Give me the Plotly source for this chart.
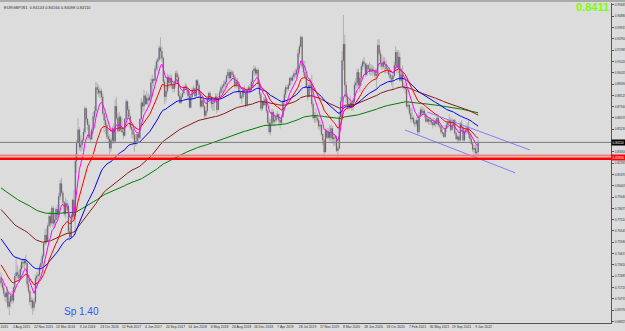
import plotly.graph_objects as go

# ---------------- weekly EURGBP data (price * 10000), bar 0 = week of 7 Jun 2015 ----------------
OPEN_2015 = [7250,7210,7170,7120,7090,7130,7010,7050,7100,7060,7170,7270,7300,7280,7250,7330,7390,7380,7400,7380,7200,7140,7050,7060,7000,7050,7250,7270,7280,7350]
HIGH_2015 = [7300,7230,7200,7140,7180,7140,7080,7130,7140,7180,7290,7420,7360,7320,7360,7420,7420,7420,7450,7410,7240,7160,7090,7080,7080,7280,7300,7310,7370,7420]
LOW_2015 = [7180,7150,7100,7050,7040,6990,6936,7000,7030,7040,7150,7230,7250,7220,7230,7300,7340,7330,7360,7170,7120,7020,6990,6940,6970,7030,7180,7200,7260,7320]
CLOSE_2015 = [7210,7170,7120,7090,7130,7010,7050,7100,7060,7170,7270,7300,7280,7250,7330,7390,7380,7400,7380,7200,7140,7050,7060,7000,7050,7250,7270,7280,7350,7380]

OPEN_2016 = [7380,7440,7550,7620,7570,7700,7780,7720,7850,7720,7750,7840,7790,7950,8060,7980,7900,7800,7890,7870,7650,7600,7770,7920,7780,8250,8410,8520,8370,8390,8430,8500,8700,8610,8560,8450,8440,8520,8630,8680,8880,8860,8830,8850,8800,8660,8600,8560,8460,8440,8360,8430]
HIGH_2016 = [7460,7560,7670,7680,7720,7820,7820,7870,7870,7800,7860,7880,7980,8090,8110,8000,7910,7940,7920,7890,7690,7800,7930,8000,8300,8430,8620,8540,8470,8450,8530,8720,8710,8620,8580,8500,8540,8670,8720,8930,8920,8900,8880,8870,8830,8680,8640,8580,8520,8480,8450,8550]
LOW_2016 = [7340,7420,7530,7540,7560,7690,7680,7700,7680,7680,7730,7760,7780,7920,7960,7870,7780,7760,7830,7630,7570,7590,7750,7750,7620,8150,8400,8340,8330,8340,8420,8480,8580,8510,8430,8420,8430,8520,8600,8650,8820,8800,8790,8760,8640,8500,8480,8440,8410,8310,8330,8400]
CLOSE_2016 = [7440,7550,7620,7570,7700,7780,7720,7850,7720,7750,7840,7790,7950,8060,7980,7900,7800,7890,7870,7650,7600,7770,7920,7780,8250,8410,8520,8370,8390,8430,8500,8700,8610,8560,8450,8440,8520,8630,8680,8880,8860,8830,8850,8800,8660,8600,8560,8460,8440,8360,8430,8530]

OPEN_2017 = [8530,8420,8720,8620,8510,8630,8520,8500,8470,8610,8760,8690,8630,8540,8520,8480,8400,8420,8480,8450,8610,8750,8720,8810,8740,8790,8770,8800,8920,8950,8940,9040,9100,9120,9220,9190,9130,8930,8800,8850,8970,8920,8960,8900,8870,8920,9000,8970,8810,8750,8800,8830]
HIGH_2017 = [8570,8780,8800,8660,8670,8640,8620,8540,8620,8780,8770,8720,8650,8560,8560,8500,8480,8500,8480,8620,8790,8770,8860,8820,8850,8830,8820,8960,8990,8960,9070,9120,9140,9240,9307,9230,9150,8950,8890,9000,8990,8990,8990,8920,8940,9020,9030,8990,8850,8830,8850,8900]
LOW_2017 = [8400,8410,8600,8490,8500,8500,8490,8440,8460,8600,8620,8610,8520,8450,8440,8330,8380,8400,8410,8440,8600,8670,8680,8730,8730,8710,8760,8770,8800,8890,8920,9020,9020,9100,9120,9100,8880,8740,8760,8830,8870,8880,8870,8840,8840,8880,8920,8800,8740,8740,8790,8820]
CLOSE_2017 = [8420,8720,8620,8510,8630,8520,8500,8470,8610,8760,8690,8630,8540,8520,8480,8400,8420,8480,8450,8610,8750,8720,8810,8740,8790,8770,8800,8920,8950,8940,9040,9100,9120,9220,9190,9130,8930,8800,8850,8970,8920,8960,8900,8870,8920,9000,8970,8810,8750,8800,8830,8880]

OPEN_2018 = [8880,8890,8860,8810,8710,8800,8860,8870,8810,8940,8900,8820,8720,8770,8720,8640,8680,8780,8830,8800,8740,8750,8770,8800,8690,8790,8840,8880,8890,8910,8930,8980,9010,8960,9010,8990,8970,8900,8930,8910,8840,8790,8800,8860,8850,8730,8860,8880,8860,8930,9020,9040]
HIGH_2018 = [8920,8910,8880,8860,8830,8880,8900,8880,8950,8950,8920,8840,8790,8790,8730,8690,8800,8840,8850,8810,8780,8790,8830,8830,8810,8860,8900,8910,8940,8950,8990,9040,9040,9030,9030,9020,8990,8960,8960,8920,8890,8830,8880,8900,8860,8880,8900,8910,8950,9030,9070,9060]
LOW_2018 = [8860,8830,8770,8700,8700,8770,8820,8780,8790,8860,8800,8700,8710,8700,8620,8620,8660,8760,8750,8700,8680,8680,8750,8660,8680,8780,8820,8830,8830,8880,8900,8960,8940,8950,8950,8940,8880,8870,8880,8820,8780,8740,8780,8820,8710,8720,8830,8830,8840,8910,8980,8980]
CLOSE_2018 = [8890,8860,8810,8710,8800,8860,8870,8810,8940,8900,8820,8720,8770,8720,8640,8680,8780,8830,8800,8740,8750,8770,8800,8690,8790,8840,8880,8890,8910,8930,8980,9010,8960,9010,8990,8970,8900,8930,8910,8840,8790,8800,8860,8850,8730,8860,8880,8860,8930,9020,9040,9000]

OPEN_2019 = [9000,9030,8910,8820,8700,8760,8730,8780,8680,8580,8500,8570,8670,8590,8600,8630,8650,8600,8580,8630,8760,8820,8880,8870,8900,8960,8940,8970,9000,8990,9030,9170,9230,9310,9060,9010,8970,8880,8800,8900,8890,8740,8620,8640,8620,8600,8550,8560,8480,8430,8330,8510,8450]
HIGH_2019 = [9040,9050,8940,8840,8770,8800,8800,8790,8690,8620,8610,8700,8690,8650,8660,8680,8660,8620,8650,8780,8860,8900,8900,8920,8970,8980,8990,9020,9040,9050,9210,9250,9325,9320,9110,9110,8990,8920,8940,8960,8990,8760,8670,8700,8660,8620,8600,8570,8490,8440,8530,8530,8530]
LOW_2019 = [8980,8870,8790,8680,8680,8710,8720,8660,8560,8480,8470,8560,8550,8550,8580,8610,8570,8530,8560,8620,8740,8790,8840,8850,8890,8910,8930,8940,8960,8960,9010,9140,9220,9040,8980,8950,8870,8770,8790,8850,8710,8600,8580,8580,8580,8520,8510,8470,8390,8277,8320,8440,8440]
CLOSE_2019 = [9030,8910,8820,8700,8760,8730,8780,8680,8580,8500,8570,8670,8590,8600,8630,8650,8600,8580,8630,8760,8820,8880,8870,8900,8960,8940,8970,9000,8990,9030,9170,9230,9310,9060,9010,8970,8880,8800,8900,8890,8740,8620,8640,8620,8600,8550,8560,8480,8430,8330,8510,8450,8500]

OPEN_2020 = [8500,8450,8530,8440,8450,8460,8340,8360,8630,8760,9110,9250,8900,8800,8740,8720,8750,8720,8760,8900,8920,9010,8900,8960,9060,9100,9080,8990,9070,9040,9020,9040,9020,9030,8980,8990,9240,9170,9090,9060,9100,9080,9040,9030,8990,8960,8950,8980,9070,9180,9050,9140]
HIGH_2020 = [8560,8560,8550,8500,8470,8470,8380,8670,8800,9190,9499,9330,8930,8830,8780,8810,8760,8790,8930,8960,9040,9040,9010,9080,9120,9140,9090,9090,9080,9100,9080,9070,9060,9040,9010,9290,9290,9200,9160,9140,9140,9110,9070,9050,9010,8990,9010,9100,9230,9200,9200,9180]
LOW_2020 = [8420,8420,8400,8380,8380,8330,8282,8350,8600,8720,9030,8790,8750,8690,8690,8700,8680,8680,8750,8870,8880,8870,8840,8930,9030,9050,8970,8980,9020,8990,8980,8980,8990,8960,8860,8980,9150,9050,9030,9040,9000,9000,9000,8970,8920,8900,8860,8970,9050,9000,9000,8930]
CLOSE_2020 = [8450,8530,8440,8450,8460,8340,8360,8630,8760,9110,9250,8900,8800,8740,8720,8750,8720,8760,8900,8920,9010,8900,8960,9060,9100,9080,8990,9070,9040,9020,9040,9020,9030,8980,8990,9240,9170,9090,9060,9100,9080,9040,9030,8990,8960,8950,8980,9070,9180,9050,9140,8940]

OPEN_2021 = [8940,8990,8890,8880,8870,8720,8730,8660,8610,8620,8580,8570,8600,8500,8640,8690,8660,8680,8650,8590,8610,8590,8600,8580,8560,8590,8570,8620,8560,8550,8500,8490,8460,8530,8560,8580,8600,8520,8560,8600,8490,8440,8460,8430,8570,8540,8430,8500,8520,8540,8480,8440,8400,8350,8360,8320,8330]
HIGH_2021 = [9050,9070,8920,8910,8880,8760,8740,8700,8710,8640,8600,8620,8610,8670,8710,8720,8710,8700,8660,8640,8620,8630,8610,8620,8620,8610,8640,8640,8600,8560,8530,8500,8560,8590,8610,8650,8620,8620,8610,8610,8500,8470,8480,8590,8600,8550,8520,8550,8580,8600,8510,8460,8410,8390,8390,8380,8440]
LOW_2021 = [8930,8870,8860,8830,8700,8690,8640,8580,8600,8560,8540,8550,8470,8480,8630,8630,8640,8620,8580,8580,8560,8560,8560,8530,8550,8540,8560,8540,8530,8480,8470,8450,8450,8500,8540,8560,8500,8510,8530,8470,8430,8400,8410,8420,8510,8420,8420,8480,8490,8450,8420,8390,8330,8310,8300,8290,8300]
CLOSE_2021 = [8990,8890,8880,8870,8720,8730,8660,8610,8620,8580,8570,8600,8500,8640,8690,8660,8680,8650,8590,8610,8590,8600,8580,8560,8590,8570,8620,8560,8550,8500,8490,8460,8530,8560,8580,8600,8520,8560,8600,8490,8440,8460,8430,8570,8540,8430,8500,8520,8540,8480,8440,8400,8350,8360,8320,8330,8411]

OPEN = OPEN_2015 + OPEN_2016 + OPEN_2017 + OPEN_2018 + OPEN_2019 + OPEN_2020 + OPEN_2021
HIGH = HIGH_2015 + HIGH_2016 + HIGH_2017 + HIGH_2018 + HIGH_2019 + HIGH_2020 + HIGH_2021
LOW = LOW_2015 + LOW_2016 + LOW_2017 + LOW_2018 + LOW_2019 + LOW_2020 + LOW_2021
CLOSE = CLOSE_2015 + CLOSE_2016 + CLOSE_2017 + CLOSE_2018 + CLOSE_2019 + CLOSE_2020 + CLOSE_2021
assert len(OPEN) == len(HIGH) == len(LOW) == len(CLOSE)

# moving averages (EMA) with their starting values
MA_PERIODS = [200, 100, 50, 21, 8]
MA_SEEDS = [0.8030, 0.7851, 0.7603, 0.7381, 0.7279]
MA_COLORS = ["#008000", "#8b1a1a", "#0000ff", "#ff0000", "#ff00ff"]

# drawn objects
BID = 0.8411
SUPPORT_LEVELS = [0.8299, 0.8271]
CHANNEL_UPPER_BARS = [309.8, 384.7]
CHANNEL_UPPER_PRICES = [0.8671, 0.8346]
CHANNEL_LOWER_BARS = [293.8, 373.8]
CHANNEL_LOWER_PRICES = [0.8517, 0.8152]

# axis labels
X_LABEL_BARS = [8, 24, 40, 56, 72, 88, 104, 120, 136, 152, 168, 184, 200, 216, 232, 248, 264, 280, 296, 312, 328, 344]
X_LABELS = ["2 Aug 2015", "22 Nov 2015", "13 Mar 2016", "3 Jul 2016", "23 Oct 2016", "12 Feb 2017",
            "4 Jun 2017", "24 Sep 2017", "14 Jan 2018", "6 May 2018", "26 Aug 2018", "16 Dec 2018",
            "7 Apr 2019", "28 Jul 2019", "17 Nov 2019", "8 Mar 2020", "28 Jun 2020", "18 Oct 2020",
            "7 Feb 2021", "30 May 2021", "19 Sep 2021", "9 Jan 2022"]
Y_TICKS = [0.95845, 0.94880, 0.93915, 0.92950, 0.91985, 0.91020, 0.90055, 0.89090, 0.88125, 0.87160,
           0.86195, 0.85230, 0.83300, 0.82335, 0.81370, 0.80405, 0.79440, 0.78475, 0.77510,
           0.76545, 0.75580, 0.74615, 0.73650, 0.72685, 0.71720, 0.70755, 0.69790, 0.68825]

o = [v / 10000 for v in OPEN]
h = [v / 10000 for v in HIGH]
l = [v / 10000 for v in LOW]
c = [v / 10000 for v in CLOSE]
bars = list(range(len(c)))


def ema(vals, period, seed):
    a = 2.0 / (period + 1)
    v = seed
    out = []
    for x in vals:
        v += a * (x - v)
        out.append(v)
    return out


BG = "#dcdcdc"
FONT = "Liberation Sans"

fig = go.Figure()
fig.add_trace(go.Candlestick(
    x=bars, open=o, high=h, low=l, close=c,
    increasing=dict(line=dict(color="#7c7c7c", width=0.45), fillcolor="#101068"),
    decreasing=dict(line=dict(color="#7c7c7c", width=0.45), fillcolor="#521414"),
    whiskerwidth=0, hoverinfo="skip"))

for p, s, col in zip(MA_PERIODS, MA_SEEDS, MA_COLORS):
    fig.add_trace(go.Scatter(x=bars, y=ema(c, p, s), mode="lines",
                             line=dict(color=col, width=1), hoverinfo="skip"))

for xs, ys in [(CHANNEL_UPPER_BARS, CHANNEL_UPPER_PRICES), (CHANNEL_LOWER_BARS, CHANNEL_LOWER_PRICES)]:
    fig.add_trace(go.Scatter(x=xs, y=ys, mode="lines", line=dict(color="#7f7fff", width=1),
                             hoverinfo="skip"))

shapes = [
    dict(type="line", xref="paper", x0=0, x1=1, yref="y", y0=BID, y1=BID,
         line=dict(color="#7a7a7a", width=1), layer="above"),
    dict(type="line", xref="paper", x0=0, x1=1, yref="y", y0=SUPPORT_LEVELS[0], y1=SUPPORT_LEVELS[0],
         line=dict(color="#f08080", width=2), layer="above"),
    dict(type="line", xref="paper", x0=0, x1=1, yref="y", y0=SUPPORT_LEVELS[1], y1=SUPPORT_LEVELS[1],
         line=dict(color="#ff0000", width=2.5), layer="above"),
    dict(type="line", xref="paper", x0=0, x1=1.03, yref="paper", y0=1.006, y1=1.006,
         line=dict(color="#9a9a9a", width=1.5)),
]

ann = [
    dict(xref="paper", yref="paper", x=0.004, y=1.0, xanchor="left", yanchor="top", showarrow=False,
         text="EURGBP,W1  0.84143 0.84166 0.84098 0.84110", font=dict(family=FONT, size=4, color="#333333")),
    dict(xref="paper", yref="paper", x=1.0, y=0.9875, xanchor="right", yanchor="middle", showarrow=False,
         text="<b>0.8411</b>", font=dict(family=FONT, size=11, color="#7cfc00")),
    dict(xref="paper", yref="paper", x=0.101, y=0.035, xanchor="left", yanchor="middle", showarrow=False,
         text="Sp 1.40", font=dict(family=FONT, size=10, color="#3355ff")),
    dict(xref="paper", yref="y", x=1.0, y=BID, xanchor="left", yanchor="middle", showarrow=False,
         text="0.84110", bgcolor="#000000", borderpad=0.5, font=dict(family=FONT, size=3.2, color="#ffffff")),
    dict(xref="paper", yref="y", x=1.0, y=(SUPPORT_LEVELS[0] + SUPPORT_LEVELS[1]) / 2, xanchor="left",
         yanchor="middle", showarrow=False, text="0.82850", bgcolor="#ff0000", borderpad=0.5,
         font=dict(family=FONT, size=3.2, color="#ffffff")),
]

fig.update_layout(
    width=625, height=331, margin=dict(l=0, r=14, t=3, b=8),
    paper_bgcolor=BG, plot_bgcolor=BG, showlegend=False, hovermode=False,
    shapes=shapes, annotations=ann,
    xaxis=dict(range=[-0.73, 443.6], rangeslider=dict(visible=False), showgrid=False, zeroline=False,
               showline=True, linecolor="#555555", linewidth=1,
               tickmode="array", tickvals=[2.4] + [b + 6.9 for b in X_LABEL_BARS],
               ticktext=["2015"] + X_LABELS, ticks="", ticklabelstandoff=0,
               tickfont=dict(family=FONT, size=3.4, color="#333333")),
    yaxis=dict(range=[0.68687, 0.96015], side="right", showgrid=False, zeroline=False,
               showline=True, linecolor="#555555", linewidth=1,
               tickmode="array", tickvals=Y_TICKS, ticktext=[f"{v:.5f}" for v in Y_TICKS],
               ticks="outside", ticklen=2, tickcolor="#555555",
               tickfont=dict(family=FONT, size=3.2, color="#333333")),
)

fig.write_html("out.html")
